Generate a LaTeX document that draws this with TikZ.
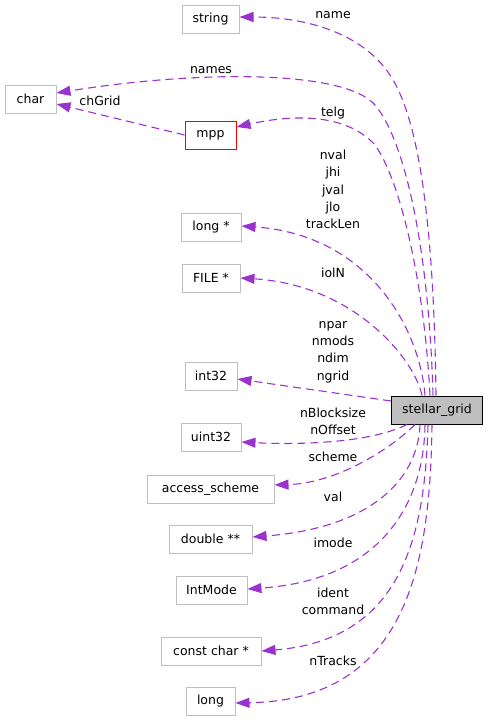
\documentclass[tikz,border=0pt]{standalone}
\usepackage{fontspec}
\setmainfont{DejaVu Sans}
\usetikzlibrary{arrows.meta}
\definecolor{edgepurple}{RGB}{154,50,205}
\definecolor{boxgray}{RGB}{191,191,191}
\begin{document}
\begin{tikzpicture}[x=1pt,y=-1pt,
	cls/.style={draw=boxgray,line width=1pt,minimum height=28pt,inner sep=0pt,font=\fontsize{12.5}{15}\selectfont},
	member/.style={draw=edgepurple,line width=1.1pt,dash pattern=on 8pt off 5pt,-{Triangle[length=14pt,width=10pt]}},
	lbl/.style={inner sep=0pt,align=center,font=\fontsize{12.5}{17.3}\selectfont}]
	\useasboundingbox (0,0) rectangle (488,720);

	\node (grid)[cls,draw=black,fill=boxgray,minimum width=91pt] at (437,410) {stellar\_grid};
	\node (string)[cls,minimum width=57pt] at (210.5,19) {string};
	\node (char)[cls,minimum width=51pt] at (30.5,99) {char};
	\node (mpp)[cls,draw=red,minimum width=51pt] at (210.5,135) {mpp};
	\node (longp)[cls,minimum width=60pt] at (211,227) {long *};
	\node (filep)[cls,minimum width=58pt] at (211,278) {FILE *};
	\node (int)[cls,minimum width=52pt] at (211,376) {int32};
	\node (uint)[cls,minimum width=60pt] at (211,437) {uint32};
	\node (access)[cls,minimum width=127pt] at (210.5,489) {access\_scheme};
	\node (dblpp)[cls,minimum width=83pt] at (210.5,539) {double **};
	\node (intmode)[cls,minimum width=71pt] at (211.5,590) {IntMode};
	\node (cchar)[cls,minimum width=100pt] at (211,651) {const char *};
	\node (long)[cls,minimum width=49pt] at (210.5,701) {long};

	\node (lName)[lbl] at (333,15) {name};
	\node (lNames)[lbl] at (211,70) {names};
	\node (lChGrid)[lbl] at (100,101) {chGrid};
	\node (lTelg)[lbl] at (333,113) {telg};
	\node (lNval)[lbl] at (333,189.5) {nval\\jhi\\jval\\jlo\\trackLen};
	\node (lIoIN)[lbl] at (333,273) {iolN};
	\node (lNpar)[lbl] at (333,352) {npar\\nmods\\ndim\\ngrid};
	\node (lNBlock)[lbl] at (333,421.5) {nBlocksize\\nOffset};
	\node (lScheme)[lbl] at (333,457) {scheme};
	\node (lVal)[lbl] at (333,497) {val};
	\node (lImode)[lbl] at (333,542.5) {imode};
	\node (lIdent)[lbl] at (333,601.5) {ident\\command};
	\node (lNTracks)[lbl] at (333,661) {nTracks};

	\draw[member] ([xshift=-1pt]grid.north) .. controls (434,230) and (420,120) .. (390,75)
		.. controls (360,30) and (300,17) .. ([yshift=2pt]string.east);
	\draw[member] ([xshift=-4pt]grid.north) .. controls (429,250) and (405,140) .. (375,105)
		.. controls (345,70) and (200,70) .. ([yshift=6pt]char.east);
	\draw[member] (mpp.west) -- ([yshift=-5pt]char.east);
	\draw[member] ([xshift=-7pt]grid.north) .. controls (424,280) and (400,180) .. (375,145)
		.. controls (345,112) and (290,115) .. ([yshift=8pt]mpp.east);
	\draw[member] ([xshift=-12pt]grid.north) .. controls (420,330) and (370,235) .. ([yshift=1pt]longp.east);
	\draw[member] ([xshift=-15pt]grid.north) .. controls (415,360) and (355,285) .. (filep.east);
	\draw[member] ([yshift=9pt]grid.west) -- ([yshift=-3pt]int.east);
	\draw[member] ([xshift=-30pt]grid.south) .. controls (370,443) and (300,445) .. ([yshift=-5pt]uint.east);
	\draw[member] ([xshift=-22pt]grid.south) .. controls (395,445) and (340,483) .. ([yshift=4pt]access.east);
	\draw[member] ([xshift=-17pt]grid.south) .. controls (418,480) and (370,528) .. ([yshift=2pt]dblpp.east);
	\draw[member] ([xshift=-12pt]grid.south) .. controls (424,505) and (380,580) .. ([yshift=1pt]intmode.east);
	\draw[member] ([xshift=-9pt]grid.south) .. controls (425,540) and (400,640) .. (cchar.east);
	\draw[member] ([xshift=-5pt]grid.south) .. controls (430,560) and (410,700) .. ([yshift=-2pt]long.east);
\end{tikzpicture}
\end{document}
